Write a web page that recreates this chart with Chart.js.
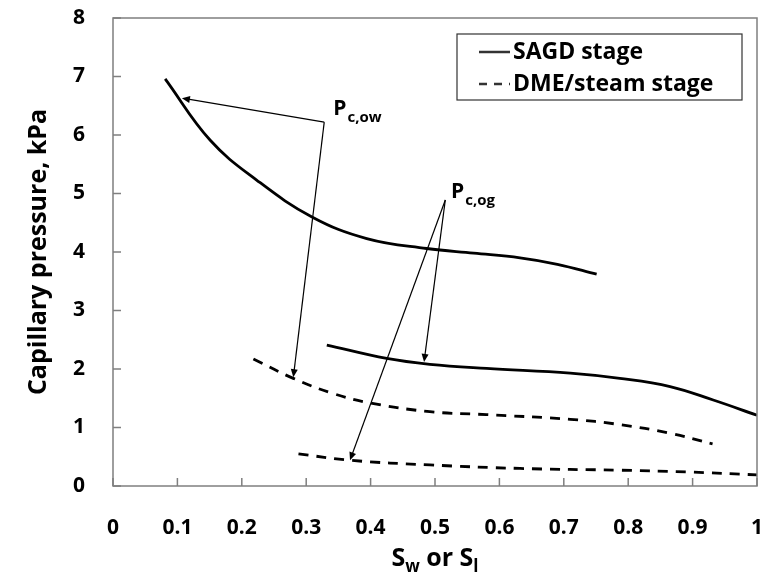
<!DOCTYPE html>
<html>
<head>
<meta charset="utf-8">
<script src="https://cdn.jsdelivr.net/npm/chart.js@4"></script>
<style>
  html, body { margin: 0; padding: 0; background: #fff; }
</style>
</head>
<body>
<canvas id="cpChart" width="764" height="578"></canvas>
<script>
// curves (saturation, kPa)
var sagdOwX = [0.081, 0.151, 0.223, 0.309, 0.394, 0.487, 0.56, 0.632, 0.69, 0.751];
var sagdOwY = [6.96, 5.91, 5.23, 4.60, 4.23, 4.06, 3.98, 3.90, 3.79, 3.62];
var sagdOgX = [0.332, 0.425, 0.492, 0.580, 0.710, 0.787, 0.865, 0.932, 1.0];
var sagdOgY = [2.41, 2.18, 2.08, 2.01, 1.93, 1.84, 1.70, 1.47, 1.21];
var dmeOwX = [0.218, 0.280, 0.342, 0.399, 0.492, 0.580, 0.710, 0.787, 0.865, 0.931];
var dmeOwY = [2.17, 1.84, 1.58, 1.42, 1.27, 1.22, 1.14, 1.05, 0.90, 0.72];
var dmeOgX = [0.288, 0.368, 0.492, 0.632, 0.787, 0.891, 1.0];
var dmeOgY = [0.55, 0.44, 0.36, 0.30, 0.27, 0.24, 0.19];

var xTicks = [0, 0.1, 0.2, 0.3, 0.4, 0.5, 0.6, 0.7, 0.8, 0.9, 1];
var yTicks = [0, 1, 2, 3, 4, 5, 6, 7, 8];
var legendNames = ["SAGD stage", "DME/steam stage"];

// callouts: label position + arrow start + arrow tips, in data units
var callouts = [
  { sub: "c,ow", at: [0.342, 6.34], from: [0.328, 6.22], to: [[0.107, 6.63], [0.280, 1.86]] },
  { sub: "c,og", at: [0.525, 4.92], from: [0.516, 4.89], to: [[0.483, 2.12], [0.368, 0.44]] }
];

var FONT = "'Open Sans', sans-serif";
var DASH = [10, 8];

function pts(xs, ys) {
  return xs.map(function (x, i) { return { x: x, y: ys[i] }; });
}

function curve(label, xs, ys, dashed) {
  return {
    label: label,
    data: pts(xs, ys),
    showLine: true,
    borderColor: "#000",
    borderWidth: 2.8,
    borderDash: dashed ? DASH : [],
    pointRadius: 0,
    tension: 0.4,
    fill: false
  };
}

function arrow(ctx, x0, y0, x1, y1) {
  var a = Math.atan2(y1 - y0, x1 - x0);
  var len = 8, w = 3.5;
  ctx.beginPath();
  ctx.moveTo(x0, y0);
  ctx.lineTo(x1 - Math.cos(a) * len * 0.8, y1 - Math.sin(a) * len * 0.8);
  ctx.stroke();
  ctx.beginPath();
  ctx.moveTo(x1, y1);
  ctx.lineTo(x1 - Math.cos(a) * len + Math.sin(a) * w, y1 - Math.sin(a) * len - Math.cos(a) * w);
  ctx.lineTo(x1 - Math.cos(a) * len - Math.sin(a) * w, y1 - Math.sin(a) * len + Math.cos(a) * w);
  ctx.closePath();
  ctx.fill();
}

var extras = {
  id: "extras",
  afterDraw: function (chart) {
    var ctx = chart.ctx, ca = chart.chartArea;
    var xs = chart.scales.x, ys = chart.scales.y;
    ctx.save();

    // frame + inward ticks
    ctx.strokeStyle = "#7f7f7f";
    ctx.lineWidth = 1.5;
    ctx.strokeRect(ca.left, ca.top, ca.right - ca.left, ca.bottom - ca.top);
    ctx.beginPath();
    xTicks.forEach(function (v) {
      var px = xs.getPixelForValue(v);
      ctx.moveTo(px, ca.bottom); ctx.lineTo(px, ca.bottom - 8);
    });
    yTicks.forEach(function (v) {
      var py = ys.getPixelForValue(v);
      ctx.moveTo(ca.left, py); ctx.lineTo(ca.left + 8, py);
    });
    ctx.stroke();

    // x axis title with subscripts
    ctx.fillStyle = "#000";
    ctx.textBaseline = "alphabetic";
    var big = "bold 25px " + FONT, small = "bold 17px " + FONT;
    var parts = [["S", big, 0], ["w", small, 6], [" or S", big, 0], ["l", small, 6]];
    var total = 0;
    parts.forEach(function (p) { ctx.font = p[1]; total += ctx.measureText(p[0]).width; });
    var cx = (ca.left + ca.right) / 2 - total / 2, base = 566;
    parts.forEach(function (p) {
      ctx.font = p[1];
      ctx.fillText(p[0], cx, base + p[2]);
      cx += ctx.measureText(p[0]).width;
    });

    // callouts
    ctx.strokeStyle = "#000";
    ctx.lineWidth = 1.2;
    callouts.forEach(function (c) {
      var fx = xs.getPixelForValue(c.from[0]), fy = ys.getPixelForValue(c.from[1]);
      c.to.forEach(function (t) {
        arrow(ctx, fx, fy, xs.getPixelForValue(t[0]), ys.getPixelForValue(t[1]));
      });
      var lx = xs.getPixelForValue(c.at[0]), ly = ys.getPixelForValue(c.at[1]);
      ctx.font = "bold 21px " + FONT;
      ctx.fillText("P", lx, ly);
      var pw = ctx.measureText("P").width;
      ctx.font = "bold 15px " + FONT;
      ctx.fillText(c.sub, lx + pw + 1, ly + 7);
    });

    // legend box
    var bx = 457, by = 34, bw = 285, bh = 66;
    ctx.strokeStyle = "#333";
    ctx.lineWidth = 1.2;
    ctx.strokeRect(bx, by, bw, bh);
    ctx.font = "bold 23px " + FONT;
    ctx.textBaseline = "middle";
    legendNames.forEach(function (name, i) {
      var y = by + 18 + i * 32;
      ctx.beginPath();
      ctx.lineWidth = 2.5;
      ctx.setLineDash(i === 0 ? [] : [8, 7]);
      ctx.moveTo(479, y); ctx.lineTo(510, y);
      ctx.stroke();
      ctx.setLineDash([]);
      ctx.fillText(name, 513, y);
    });
    ctx.restore();
  }
};

new Chart(document.getElementById("cpChart"), {
  type: "scatter",
  data: {
    datasets: [
      curve("SAGD stage", sagdOwX, sagdOwY, false),
      curve("SAGD stage", sagdOgX, sagdOgY, false),
      curve("DME/steam stage", dmeOwX, dmeOwY, true),
      curve("DME/steam stage", dmeOgX, dmeOgY, true)
    ]
  },
  options: {
    responsive: false,
    animation: false,
    layout: { padding: { top: 18, right: 7, left: 0, bottom: 0 } },
    plugins: { legend: { display: false }, tooltip: { enabled: false } },
    scales: {
      x: {
        type: "linear", min: 0, max: 1,
        afterBuildTicks: function (s) { s.ticks = xTicks.map(function (v) { return { value: v }; }); },
        afterFit: function (s) { s.height = 92; s.paddingRight = 0; s.paddingLeft = 0; },
        grid: { display: false },
        border: { display: false },
        ticks: {
          color: "#000", padding: 21, maxRotation: 0,
          font: { family: FONT, size: 21, weight: "bold" },
          callback: function (v) { return String(v); }
        }
      },
      y: {
        type: "linear", min: 0, max: 8,
        afterBuildTicks: function (s) { s.ticks = yTicks.map(function (v) { return { value: v }; }); },
        afterFit: function (s) { s.width = 113; s.paddingTop = 0; s.paddingBottom = 0; },
        grid: { display: false },
        border: { display: false },
        ticks: { color: "#000", padding: 20, font: { family: FONT, size: 21, weight: "bold" } },
        title: { display: true, text: "Capillary pressure, kPa", color: "#000", padding: { top: 24 }, font: { family: FONT, size: 25, weight: "bold" } }
      }
    }
  },
  plugins: [extras]
});
</script>
</body>
</html>
